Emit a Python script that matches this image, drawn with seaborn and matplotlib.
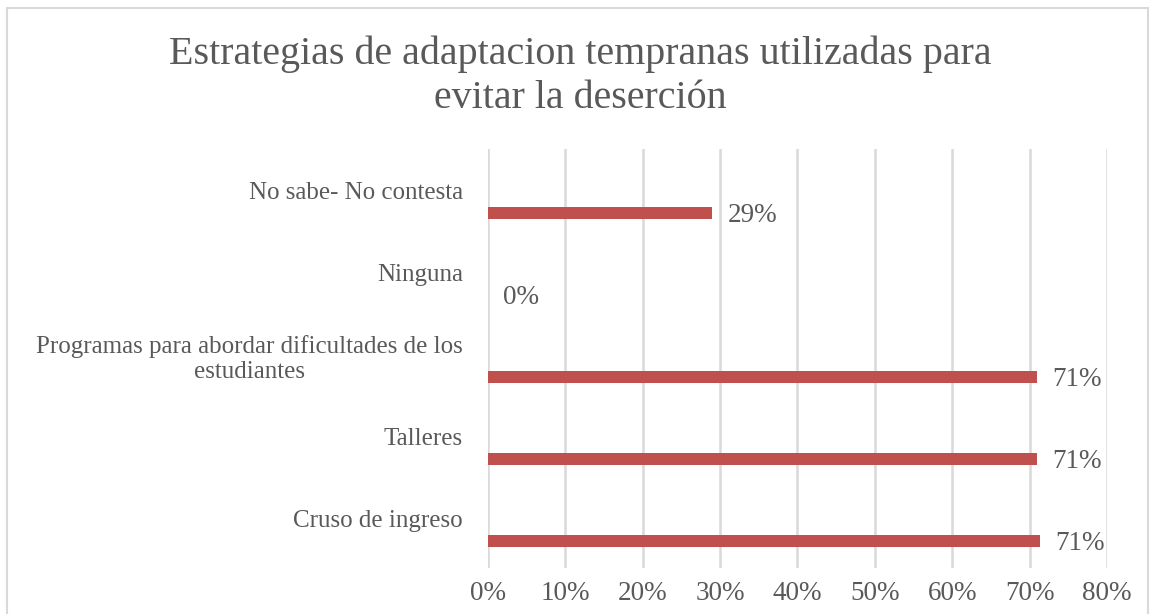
import numpy as np
import pandas as pd
import seaborn as sns
import matplotlib.pyplot as plt
from matplotlib.patches import Rectangle

# data
categories = [
    "No sabe- No contesta",
    "Ninguna",
    "Programas para abordar dificultades de los\nestudiantes",
    "Talleres",
    "Cruso de ingreso",
]
values = [0.29, 0.0, 0.71, 0.71, 0.714]
x_ticks = [0.0, 0.1, 0.2, 0.3, 0.4, 0.5, 0.6, 0.7, 0.8]
title = "Estrategias de adaptacion tempranas utilizadas para\nevitar la deserción"

BAR = "#C0504D"
TEXT = "#595959"
GRID = "#D9D9D9"

sns.set_theme(style="white")
plt.rcParams['font.family'] = ['Liberation Serif', 'DejaVu Serif']

df = pd.DataFrame({"categoria": categories, "valor": values})

fig = plt.figure(figsize=(11.52, 6.14), dpi=100)
ax = fig.add_axes([0.4236, 0.0749, 0.5373, 0.6824])

sns.barplot(data=df, x="valor", y="categoria", orient="h", color=BAR,
            width=0.15, saturation=1, linewidth=0, ax=ax)

n = len(categories)
ax.set_xlim(0, 0.8)
ax.set_ylim(n - 1 + 0.33, -0.78)
ax.set_xticks(x_ticks)
ax.set_xticklabels([f"{t:.0%}" for t in x_ticks], fontsize=19.5, color=TEXT)
ax.set_yticks(np.arange(n) - 0.27)
ax.set_yticklabels(categories, fontsize=18, color=TEXT)
for lab in ax.get_yticklabels():
    lab.set_multialignment("center")
ax.tick_params(axis="x", length=0, pad=9)
ax.tick_params(axis="y", length=0, pad=18)
ax.set_xlabel("")
ax.set_ylabel("")
ax.xaxis.grid(True, color=GRID, linewidth=1.8)
ax.yaxis.grid(False)
for s in ax.spines.values():
    s.set_visible(False)

# data labels
for i, v in enumerate(values):
    ax.annotate(f"{v:.0%}", xy=(v, i), xytext=(11, -2), textcoords="offset points",
                va="center", ha="left", fontsize=19.5, color=TEXT)

fig.text(0.5035, 0.876, title, ha="center", va="center", fontsize=28.8,
         color=TEXT, linespacing=1.27)

# chart frame
fig.patches.append(Rectangle((7 / 1152, -0.1), 1141 / 1152, 1.1 - 8 / 614,
                             transform=fig.transFigure, fill=False,
                             edgecolor=GRID, linewidth=1.5))

fig.savefig("out.png", dpi=100)
